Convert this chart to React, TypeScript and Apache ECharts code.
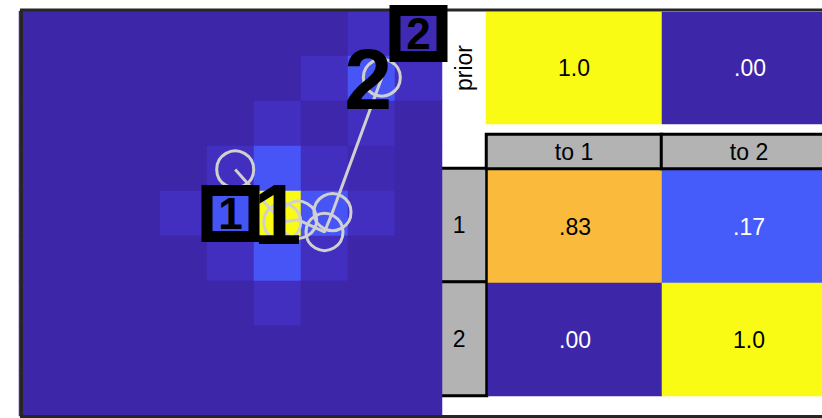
import React, { useEffect, useRef } from "react";
import * as echarts from "echarts";

// ---- data ----
const gridCols = ["0", "1", "2", "3", "4", "5", "6", "7", "8"];
const gridRows = ["0", "1", "2", "3", "4", "5", "6", "7", "8"];
// emission density per cell, row 0 = top
const densityRows: number[][] = [
  [0, 0, 0, 0, 0, 0, 0, 0.03, 0.01],
  [0, 0, 0, 0, 0, 0, 0.03, 0.15, 0.03],
  [0, 0, 0, 0, 0, 0.03, 0.005, 0.03, 0],
  [0, 0, 0, 0, 0.03, 0.15, 0.03, 0.01, 0],
  [0, 0, 0, 0.03, 0.15, 1.0, 0.15, 0.03, 0],
  [0, 0, 0, 0, 0.03, 0.15, 0.03, 0, 0],
  [0, 0, 0, 0, 0, 0.03, 0, 0, 0],
  [0, 0, 0, 0, 0, 0, 0, 0, 0],
  [0, 0, 0, 0, 0, 0, 0, 0, 0],
];
const trajX = [4.6, 5.6, 5.94, 6.5, 6.67, 7.72];
const trajY = [3.52, 4.69, 4.64, 4.91, 4.47, 1.48];
const stateNames = ["1", "2"];
const stateMeanX = [5.5, 7.43];
const stateMeanY = [4.5, 1.5];
const stateBoxX = [4.5, 8.5];
const stateBoxY = [4.5, 0.5];
const stateColors = ["#4555f5", "#3f2ab3"];
const priorLabel = ["prior"];
const priorValues = [1.0, 0.0];
const toLabels = ["to 1", "to 2"];
const fromLabels = ["1", "2"];
const transRow1 = [0.83, 0.17];
const transRow2 = [0.0, 1.0];

const parula = [
  "#3e26a8", "#402ab4", "#422ec0", "#4332cb", "#4537d5", "#463cde", "#4741e5", "#4747eb",
  "#484df0", "#4852f4", "#4758f8", "#465efb", "#4563fd", "#4269fe", "#3e6fff", "#3875fe",
  "#327cfc", "#2f81fa", "#2e87f7", "#2d8cf3", "#2b91ef", "#2796eb", "#259be8", "#23a0e5",
  "#20a5e3", "#1ca9df", "#18addb", "#12b1d6", "#08b5d0", "#01b8ca", "#02bac3", "#0bbdbd",
  "#19bfb6", "#24c1ae", "#2cc4a7", "#31c69f", "#37c897", "#3fca8e", "#4acb84", "#57cc7a",
  "#64cd6f", "#72cd64", "#81cc59", "#8fcb4e", "#9dc943", "#abc739", "#b9c431", "#c5c22a",
  "#d1bf27", "#dcbd29", "#e6bb2d", "#f0ba36", "#f8ba3d", "#febe3c", "#fec338", "#fec934",
  "#fccf30", "#fad62d", "#f7dc2a", "#f5e327", "#f5e924", "#f6ef20", "#f7f51b", "#f9fb15",
];

const FONT = "'Liberation Sans', Arial, Helvetica, sans-serif";
const TXT = 23;
const fmt = (v: number) => (v >= 1 ? v.toFixed(1) : v.toFixed(2).replace(/^0/, ""));

export default function App() {
  const ref = useRef<HTMLDivElement>(null);
  useEffect(() => {
    if (!ref.current) return;
    const chart = echarts.init(ref.current, null, { renderer: "svg" });

    const densityData: number[][] = [];
    densityRows.forEach((row, r) => row.forEach((v, c) => densityData.push([c, r, v])));

    const valueCell = (x: number, y: number, v: number) => ({
      value: [x, y, v],
      label: { color: v > 0.5 ? "#000" : "#fff" },
    });
    const priorData = priorValues.map((v, i) => valueCell(i, 0, v));
    const transData = [
      ...transRow1.map((v, i) => valueCell(i, 0, v)),
      ...transRow2.map((v, i) => valueCell(i, 1, v)),
    ];

    const hiddenCat = (data: string[], gridIndex: number, inverse = false) => ({
      type: "category" as const,
      data,
      gridIndex,
      show: false,
      inverse,
    });
    const hiddenVal = (gridIndex: number, max: number, inverse = false) => ({
      type: "value" as const,
      gridIndex,
      min: 0,
      max,
      show: false,
      inverse,
    });

    const valueLabel = {
      show: true,
      fontSize: TXT,
      fontFamily: FONT,
      formatter: (p: any) => fmt(p.value[2]),
    };

    chart.setOption({
      animation: false,
      backgroundColor: "#fff",
      grid: [
        { left: 19, top: 11, width: 423, height: 405 },
        { left: 19, top: 11, width: 423, height: 405 },
        { left: 486, top: 12, width: 352, height: 112 },
        { left: 488, top: 170, width: 348, height: 226 },
        { left: 486.5, top: 134.5, width: 350, height: 34 },
        { left: 432, top: 168.5, width: 54.5, height: 227 },
      ],
      xAxis: [
        hiddenCat(gridCols, 0),
        hiddenVal(1, 9),
        hiddenCat(stateNames, 2),
        hiddenCat(toLabels, 3),
        hiddenCat(toLabels, 4),
        hiddenCat(["from"], 5),
      ],
      yAxis: [
        hiddenCat(gridRows, 0, true),
        hiddenVal(1, 9, true),
        {
          type: "category",
          gridIndex: 2,
          data: priorLabel,
          axisLine: { show: false },
          axisTick: { show: false },
          axisLabel: { rotate: 90, fontSize: TXT, color: "#000", fontFamily: FONT, margin: 11 },
        },
        hiddenCat(fromLabels, 3, true),
        hiddenCat(["hdr"], 4),
        hiddenCat(fromLabels, 5, true),
      ],
      visualMap: [
        {
          type: "continuous",
          min: 0,
          max: 1,
          show: false,
          seriesIndex: [0, 4, 5],
          inRange: { color: parula },
        },
        {
          type: "continuous",
          min: 0,
          max: 1,
          show: false,
          seriesIndex: [6, 7],
          inRange: { color: ["#b3b3b3", "#b3b3b3"] },
        },
      ],
      graphic: [
        {
          type: "rect",
          z: 3,
          silent: true,
          shape: { x: 21.5, y: 10, width: 830, height: 406.5 },
          style: { fill: "none", stroke: "#262626", lineWidth: 3 },
        },
      ],
      series: [
        {
          type: "heatmap",
          xAxisIndex: 0,
          yAxisIndex: 0,
          z: 2,
          data: densityData,
        },
        {
          type: "line",
          xAxisIndex: 1,
          yAxisIndex: 1,
          z: 4,
          data: trajX.map((x, i) => [x, trajY[i]]),
          symbol: "circle",
          symbolSize: 37,
          showSymbol: true,
          clip: false,
          lineStyle: { color: "#d0d0d0", width: 3 },
          itemStyle: { color: "rgba(0,0,0,0)", borderColor: "#d0d0d0", borderWidth: 3 },
        },
        {
          type: "scatter",
          xAxisIndex: 1,
          yAxisIndex: 1,
          z: 6,
          symbolSize: 0,
          itemStyle: { opacity: 1 },
          data: stateMeanX.map((x, i) => [x, stateMeanY[i]]),
          label: {
            show: true,
            position: "inside",
            formatter: (p: any) => stateNames[p.dataIndex],
            fontSize: 86,
            fontWeight: "bold",
            fontFamily: FONT,
            color: "#000",
          },
        },
        {
          type: "scatter",
          xAxisIndex: 1,
          yAxisIndex: 1,
          z: 8,
          symbolSize: 0,
          clip: false,
          itemStyle: { opacity: 1 },
          data: stateBoxX.map((x, i) => ({
            value: [x, stateBoxY[i]],
            label: { backgroundColor: stateColors[i] },
          })),
          label: {
            show: true,
            position: "inside",
            formatter: (p: any) => stateNames[p.dataIndex],
            fontSize: 44,
            fontWeight: "bold",
            fontFamily: FONT,
            color: "#000",
            borderColor: "#000",
            borderWidth: 11,
            width: 36,
            height: 35,
            lineHeight: 35,
            align: "center",
            verticalAlign: "middle",
            padding: 0,
          },
        },
        {
          type: "heatmap",
          xAxisIndex: 2,
          yAxisIndex: 2,
          data: priorData,
          label: valueLabel,
        },
        {
          type: "heatmap",
          xAxisIndex: 3,
          yAxisIndex: 3,
          data: transData,
          label: valueLabel,
        },
        {
          type: "heatmap",
          xAxisIndex: 4,
          yAxisIndex: 4,
          data: toLabels.map((_, i) => [i, 0, 0]),
          itemStyle: { borderColor: "#000", borderWidth: 3 },
          label: {
            show: true,
            fontSize: TXT,
            fontFamily: FONT,
            color: "#000",
            formatter: (p: any) => toLabels[p.value[0]],
          },
        },
        {
          type: "heatmap",
          xAxisIndex: 5,
          yAxisIndex: 5,
          z: 1,
          data: fromLabels.map((_, i) => [0, i, 0]),
          itemStyle: { borderColor: "#000", borderWidth: 3 },
          label: {
            show: true,
            fontSize: TXT,
            fontFamily: FONT,
            color: "#000",
            formatter: (p: any) => fromLabels[p.value[1]],
          },
        },
      ],
    });
    return () => chart.dispose();
  }, []);
  return (
    <div
      style={{
        position: "fixed",
        left: 0,
        top: 0,
        width: 822,
        height: 418,
        overflow: "hidden",
        background: "#fff",
      }}
    >
      <div ref={ref} style={{ width: 840, height: 418 }} />
    </div>
  );
}
